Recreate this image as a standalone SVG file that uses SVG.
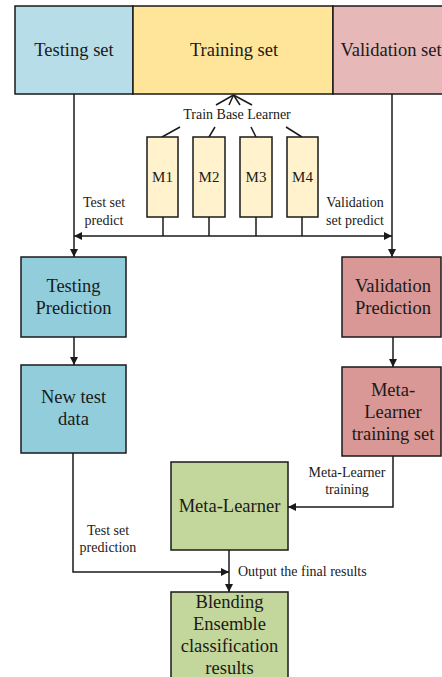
<svg xmlns="http://www.w3.org/2000/svg" width="442" height="677" viewBox="0 0 442 677">
<style>
.box{stroke:#1a1a1a;stroke-width:1.5}
.t{font-family:"Liberation Serif","Times New Roman",serif;font-size:18.5px;fill:#1a1a1a;text-anchor:middle}
.s{font-family:"Liberation Serif","Times New Roman",serif;font-size:14px;fill:#1a1a1a;text-anchor:middle}
.m{font-family:"Liberation Serif","Times New Roman",serif;font-size:15px;fill:#1a1a1a;text-anchor:middle}
.ln{stroke:#1a1a1a;stroke-width:1.5;fill:none}
</style>
<defs>
<marker id="ah" viewBox="0 0 10 10" refX="10" refY="5" markerWidth="8" markerHeight="8" markerUnits="userSpaceOnUse" orient="auto">
<path d="M0,0 L10,5 L0,10 z" fill="#1a1a1a"/>
</marker>
</defs>
<rect width="442" height="677" fill="#ffffff"/>
<g id="connectors">
<line class="ln" x1="233.5" y1="95" x2="216" y2="105"/>
<line class="ln" x1="233.5" y1="95" x2="229" y2="105"/>
<line class="ln" x1="233.5" y1="95" x2="240" y2="105"/>
<line class="ln" x1="233.5" y1="95" x2="252" y2="105"/>
<line class="ln" x1="180" y1="127" x2="162" y2="137"/>
<line class="ln" x1="215" y1="127" x2="209" y2="137"/>
<line class="ln" x1="251" y1="127" x2="256" y2="137"/>
<line class="ln" x1="286" y1="127" x2="302" y2="137"/>
<line class="ln" x1="163" y1="217" x2="163" y2="236"/>
<line class="ln" x1="209" y1="217" x2="209" y2="236"/>
<line class="ln" x1="256" y1="217" x2="256" y2="236"/>
<line class="ln" x1="302" y1="217" x2="302" y2="236"/>
<line class="ln" x1="233" y1="236" x2="74" y2="236" marker-end="url(#ah)"/>
<line class="ln" x1="233" y1="236" x2="392" y2="236" marker-end="url(#ah)"/>
<line class="ln" x1="74" y1="94" x2="74" y2="257" marker-end="url(#ah)"/>
<line class="ln" x1="392" y1="94" x2="392" y2="257" marker-end="url(#ah)"/>
<line class="ln" x1="74" y1="337" x2="74" y2="365" marker-end="url(#ah)"/>
<line class="ln" x1="393" y1="337" x2="393" y2="367" marker-end="url(#ah)"/>
<polyline class="ln" points="393,456 393,507 288,507" marker-end="url(#ah)"/>
<polyline class="ln" points="73,453 73,572 229,572" marker-end="url(#ah)"/>
<line class="ln" x1="229" y1="550" x2="229" y2="592" marker-end="url(#ah)"/>
</g>
<g id="labels">
<text class="s" x="237" y="119">Train Base Learner</text>
<text class="s" x="104" y="207">Test set</text>
<text class="s" x="104" y="225">predict</text>
<text class="s" x="355" y="207">Validation</text>
<text class="s" x="355" y="225">set predict</text>
<text class="s" x="347" y="477">Meta-Learner</text>
<text class="s" x="347" y="494">training</text>
<text class="s" x="108" y="535">Test set</text>
<text class="s" x="108" y="552">prediction</text>
<text class="s" x="238" y="576" style="text-anchor:start">Output the final results</text>
</g>
<g id="testing-set">
<rect class="box" x="15" y="6" width="118" height="88" fill="#b7dde8"/>
<text class="t" x="74" y="56">Testing set</text>
</g>
<g id="training-set">
<rect class="box" x="133" y="6" width="200" height="88" fill="#fee599"/>
<text class="t" x="234" y="56">Training set</text>
</g>
<g id="validation-set">
<rect class="box" x="333" y="6" width="120" height="88" fill="#e6b9b8"/>
<text class="t" x="391" y="56">Validation set</text>
</g>
<g id="m1">
<rect class="box" x="147" y="137" width="31" height="80" fill="#fff2cc"/>
<text class="m" x="162.5" y="182">M1</text>
</g>
<g id="m2">
<rect class="box" x="193" y="137" width="32" height="80" fill="#fff2cc"/>
<text class="m" x="209" y="182">M2</text>
</g>
<g id="m3">
<rect class="box" x="240" y="137" width="32" height="80" fill="#fff2cc"/>
<text class="m" x="256" y="182">M3</text>
</g>
<g id="m4">
<rect class="box" x="287" y="137" width="31" height="80" fill="#fff2cc"/>
<text class="m" x="302.5" y="182">M4</text>
</g>
<g id="testing-prediction">
<rect class="box" x="21" y="257" width="105" height="80" fill="#92cddc"/>
<text class="t" x="73.5" y="292">Testing</text>
<text class="t" x="73.5" y="314">Prediction</text>
</g>
<g id="new-test-data">
<rect class="box" x="21" y="365" width="105" height="88" fill="#92cddc"/>
<text class="t" x="73.5" y="403">New test</text>
<text class="t" x="73.5" y="425">data</text>
</g>
<g id="validation-prediction">
<rect class="box" x="342" y="257" width="99" height="80" fill="#d99795"/>
<text class="t" x="393" y="292">Validation</text>
<text class="t" x="393" y="314">Prediction</text>
</g>
<g id="meta-learner-training-set">
<rect class="box" x="342" y="367" width="99" height="89" fill="#d99795"/>
<text class="t" x="393" y="396">Meta-</text>
<text class="t" x="393" y="418">Learner</text>
<text class="t" x="393" y="440">training set</text>
</g>
<g id="meta-learner">
<rect class="box" x="171" y="462" width="117" height="88" fill="#c3d69b"/>
<text class="t" x="229.5" y="512">Meta-Learner</text>
</g>
<g id="blending-results">
<rect class="box" x="171" y="592" width="117" height="100" fill="#c3d69b"/>
<text class="t" x="229.5" y="608">Blending</text>
<text class="t" x="229.5" y="630">Ensemble</text>
<text class="t" x="229.5" y="652">classification</text>
<text class="t" x="229.5" y="674">results</text>
</g>
</svg>
